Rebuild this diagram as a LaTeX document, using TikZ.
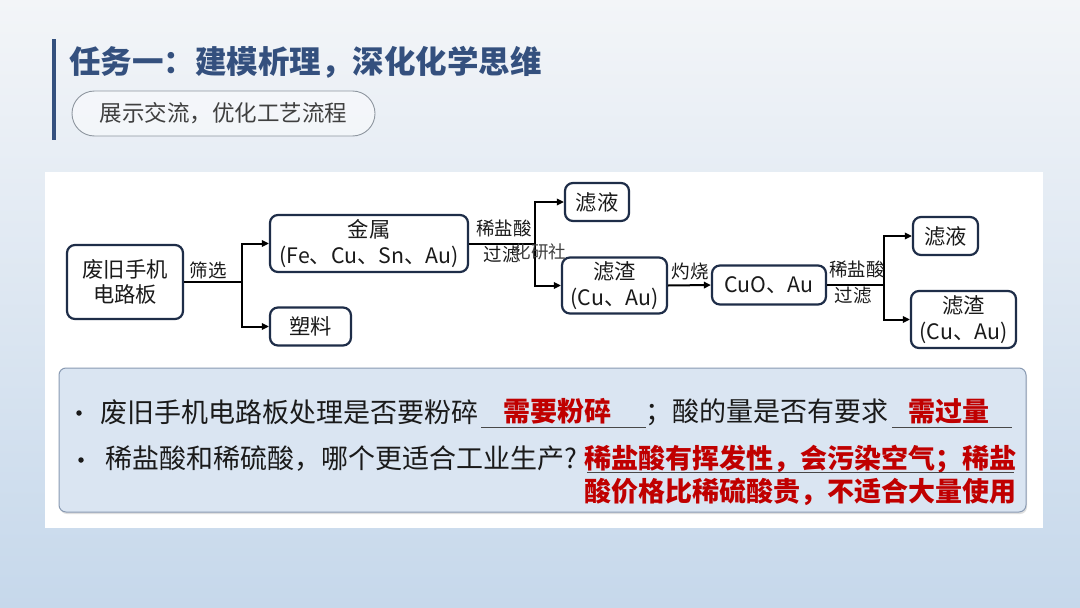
\documentclass[tikz,border=0pt]{standalone}
\usepackage{fontspec}
\setmainfont{Noto Sans CJK SC}
\usetikzlibrary{arrows.meta,shadows}
\definecolor{navy}{HTML}{1E2D48}
\definecolor{titleblue}{HTML}{34507E}
\definecolor{ansred}{HTML}{C00000}
\definecolor{boxblue}{HTML}{DAE5F2}
\definecolor{boxborder}{HTML}{8A9BB3}
\definecolor{bgtop}{HTML}{F3F5F8}
\definecolor{bgbot}{HTML}{C6D8EB}
\definecolor{txt}{HTML}{1A1A1A}
\definecolor{pilltxt}{HTML}{404040}
\definecolor{pillline}{HTML}{8E969F}
\begin{document}
\begin{tikzpicture}[x=1pt,y=-1pt,
  proc/.style={draw=navy, line width=2.2pt, rounded corners=8pt, fill=white, align=center, inner sep=0pt, text=txt, font=\fontsize{21.3}{26}\selectfont},
  lbl/.style={font=\fontsize{18.5}{20}\selectfont, inner sep=0pt, text=txt},
  flow/.style={line width=2pt, draw=black, -{Triangle[length=7pt,width=6.5pt]}},
  seg/.style={line width=2pt, draw=black},
  qtext/.style={font=\fontsize{27}{30}\selectfont, inner sep=0pt, anchor=west, text=txt},
  ans/.style={font=\bfseries\fontsize{27}{30}\selectfont, inner sep=0pt, text=ansred},
  blank/.style={line width=1pt, draw=txt!80},
  bullet/.style={circle, fill=txt, inner sep=0pt, minimum size=5.5pt}
]
\useasboundingbox (0,0) rectangle (1080,608);
% background
\shade[top color=bgtop, bottom color=bgbot] (0,0) rectangle (1080,608);
% title area
\fill[titleblue] (52,39) rectangle (55.5,140);
\node[font=\bfseries\fontsize{31.5}{34}\selectfont, text=titleblue, anchor=west, inner sep=0pt] (title) at (69,62) {任务一：建模析理，深化化学思维};
\node[draw=pillline, line width=0.9pt, fill=white, fill opacity=0.45, text opacity=1, rounded corners=22.5pt, minimum width=303pt, minimum height=45pt, inner sep=0pt, font=\fontsize{22.5}{24}\selectfont, text=pilltxt] (pill) at (223.5,113.5) {展示交流，优化工艺流程};
% white panel
\fill[white!98!bgtop] (45,172) rectangle (1043,528);
% flowchart nodes
\node[proc, minimum width=116pt, minimum height=74pt, font=\fontsize{21.3}{25}\selectfont] (src) at (125,282) {废旧手机\\电路板};
\node[proc, minimum width=198pt, minimum height=57pt] (metal) at (369,243.5) {金属\\(Fe、Cu、Sn、Au)};
\node[proc, minimum width=81pt, minimum height=38pt] (plastic) at (310.5,326.5) {塑料};
\node[proc, minimum width=64pt, minimum height=38pt] (fil1) at (597,202) {滤液};
\node[proc, minimum width=105pt, minimum height=56pt] (res1) at (614.5,285.5) {滤渣\\(Cu、Au)};
\node[proc, minimum width=114pt, minimum height=39pt] (cuo) at (769,285) {CuO、Au};
\node[proc, minimum width=65pt, minimum height=38pt] (fil2) at (945.5,236) {滤液};
\node[proc, minimum width=105pt, minimum height=57pt] (res2) at (963.5,319.5) {滤渣\\(Cu、Au)};
% junctions
\coordinate (j1) at (242,282);
\coordinate (j2) at (535,243.5);
\coordinate (j3) at (884,285);
% connectors
\draw[seg] (src.east) -- (j1);
\draw[flow] (j1) |- (metal.west);
\draw[flow] (j1) |- (plastic.west);
\draw[seg] (metal.east) -- (j2);
\draw[flow] (j2) |- (fil1.west);
\draw[flow] (j2) |- (res1.west);
\draw[flow] (res1.east) -- (cuo.west);
\draw[seg] (cuo.east) -- (j3);
\draw[flow] (j3) |- (fil2.west);
\draw[flow] (j3) |- (res2.west);
% labels
\node[lbl] (l1) at (208,270) {筛选};
\node[lbl] (l2) at (504,228) {稀盐酸};
\node[lbl] (l3) at (502,255) {过滤};
\node[font=\fontsize{17.5}{19}\selectfont, inner sep=0pt, text=black!75] (wm) at (540,252) {化研社};
\node[lbl] (l4) at (690,271) {灼烧};
\node[lbl] (l5) at (857,269) {稀盐酸};
\node[lbl] (l6) at (853,296) {过滤};
% question box
\fill[boxblue, rounded corners=7pt, drop shadow={opacity=0.25, shadow xshift=1pt, shadow yshift=-2pt}] (59,368) rectangle (1026,512);
\draw[boxborder, line width=1pt, rounded corners=7pt] (59,368) rectangle (1026,512);
% line 1
\node[bullet] (b1) at (79,413) {};
\node[qtext] (q1) at (100,412) {废旧手机电路板处理是否要粉碎};
\draw[blank] (481,427) -- (646,427);
\node[ans] (a1) at (557,411) {需要粉碎};
\node[qtext] (q2) at (645,412) {；酸的量是否有要求};
\draw[blank] (892,427) -- (1012,427);
\node[ans] (a2) at (949,411) {需过量};
% line 2
\node[bullet] (b2) at (81,460) {};
\node[qtext] (q3) at (105,459) {稀盐酸和稀硫酸，哪个更适合工业生产?};
\node[ans, anchor=west] (a3) at (584,459) {稀盐酸有挥发性，会污染空气；稀盐};
\draw[blank] (587,472) -- (1014,472);
\node[ans, anchor=west] (a4) at (584,492) {酸价格比稀硫酸贵，不适合大量使用};
\end{tikzpicture}
\end{document}
